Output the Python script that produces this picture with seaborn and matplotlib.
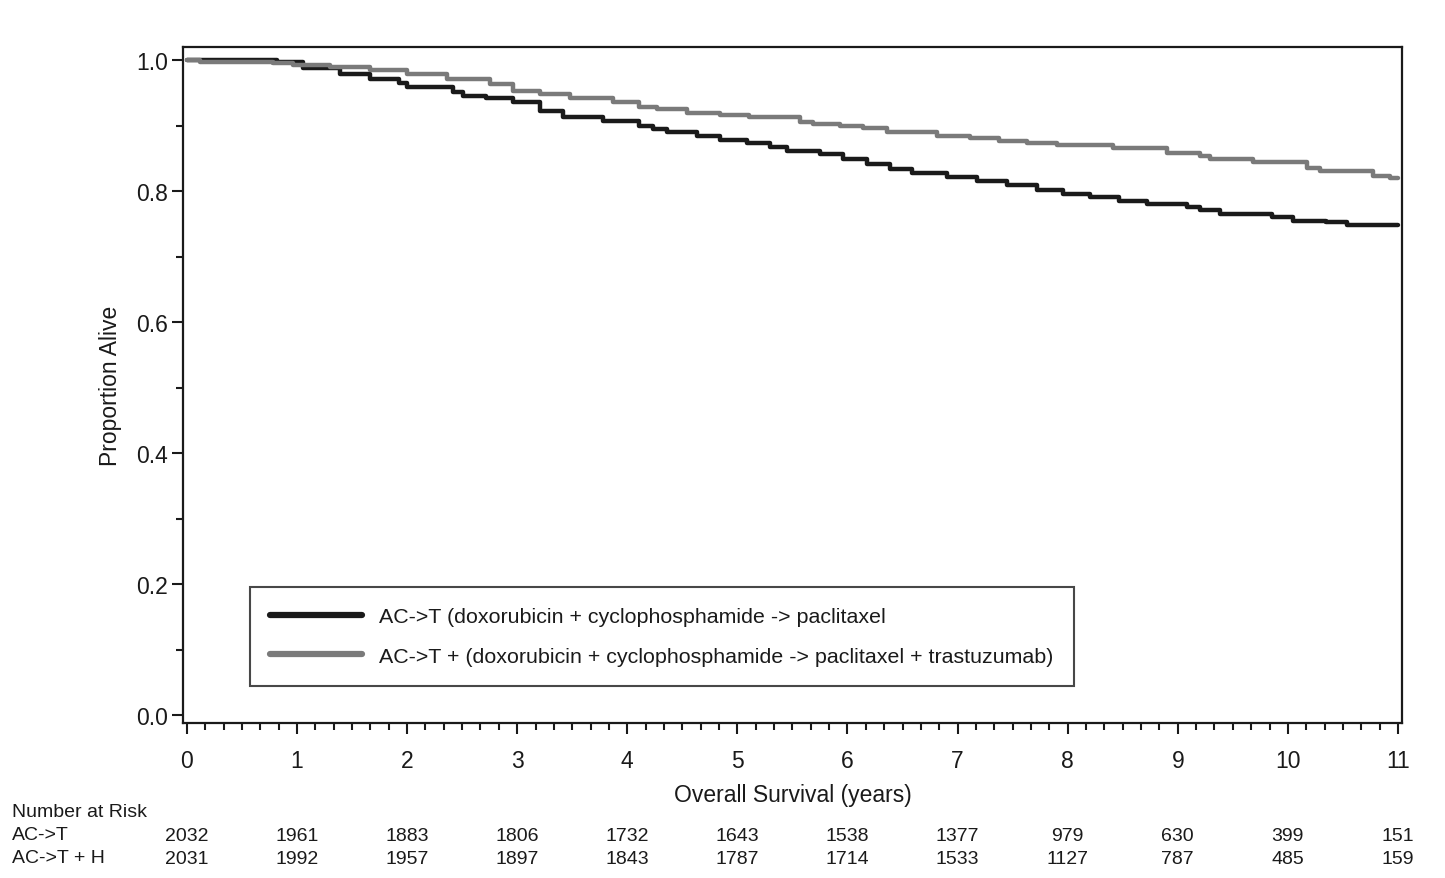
import pandas as pd
import matplotlib
matplotlib.use("Agg")
import matplotlib.pyplot as plt
import seaborn as sns

# Kaplan-Meier steps (years, proportion alive)
act_time = [0, 0.82, 1.05, 1.39, 1.66, 1.93, 2.0, 2.42, 2.51, 2.72, 2.96, 3.21, 3.42,
            3.78, 4.11, 4.23, 4.36, 4.63, 4.84, 5.09, 5.30, 5.45, 5.75, 5.96, 6.18,
            6.39, 6.59, 6.90, 7.18, 7.45, 7.72, 7.96, 8.20, 8.47, 8.72, 9.08, 9.20,
            9.38, 9.86, 10.05, 10.35, 10.54, 11.0]
act_surv = [1.0, 0.997, 0.988, 0.979, 0.972, 0.965, 0.959, 0.952, 0.946, 0.943, 0.936,
            0.922, 0.913, 0.907, 0.899, 0.895, 0.891, 0.884, 0.878, 0.873, 0.867, 0.861,
            0.856, 0.849, 0.841, 0.834, 0.827, 0.821, 0.815, 0.809, 0.802, 0.795, 0.791,
            0.785, 0.780, 0.776, 0.771, 0.765, 0.760, 0.755, 0.753, 0.748, 0.748]

acth_time = [0, 0.12, 0.78, 0.96, 1.30, 1.66, 2.0, 2.36, 2.75, 2.96, 3.21, 3.48, 3.87,
             4.11, 4.27, 4.54, 4.84, 5.11, 5.57, 5.69, 5.93, 6.14, 6.36, 6.81, 7.11,
             7.38, 7.63, 7.90, 8.41, 8.90, 9.20, 9.29, 9.68, 10.17, 10.29, 10.77, 10.93,
             11.0]
acth_surv = [1.0, 0.997, 0.995, 0.993, 0.990, 0.985, 0.979, 0.972, 0.963, 0.953, 0.948,
             0.943, 0.936, 0.928, 0.925, 0.920, 0.917, 0.913, 0.906, 0.902, 0.899, 0.896,
             0.890, 0.885, 0.881, 0.877, 0.873, 0.870, 0.866, 0.859, 0.853, 0.849, 0.844,
             0.836, 0.831, 0.823, 0.820, 0.820]

arm_labels = ["AC->T (doxorubicin + cyclophosphamide -> paclitaxel",
              "AC->T + (doxorubicin + cyclophosphamide -> paclitaxel + trastuzumab)"]
risk_years = list(range(12))
risk_act = [2032, 1961, 1883, 1806, 1732, 1643, 1538, 1377, 979, 630, 399, 151]
risk_acth = [2031, 1992, 1957, 1897, 1843, 1787, 1714, 1533, 1127, 787, 485, 159]
risk_rows = ["AC->T", "AC->T + H"]

df = pd.concat([
    pd.DataFrame({"time": act_time, "surv": act_surv, "arm": arm_labels[0]}),
    pd.DataFrame({"time": acth_time, "surv": acth_surv, "arm": arm_labels[1]}),
])

sns.set_style("ticks")
plt.rcParams["font.family"] = ["Liberation Sans", "DejaVu Sans"]

fig = plt.figure(figsize=(14.45, 8.79), dpi=100)
ax = fig.add_axes([0.1266, 0.1763, 0.8436, 0.769])

sns.lineplot(data=df, x="time", y="surv", hue="arm", estimator=None, sort=False,
             palette=["#1a1a1a", "#7a7a7a"], linewidth=3.2, drawstyle="steps-post", ax=ax)

ax.set_xlim(-0.036, 11.036)
ax.set_ylim(-0.012, 1.02)
ax.set_xticks(range(12))
ax.set_xticks([i / 6 for i in range(67)], minor=True)
ax.set_yticks([0, 0.2, 0.4, 0.6, 0.8, 1.0])
ax.set_yticks([0.1, 0.3, 0.5, 0.7, 0.9], minor=True)
ax.set_yticklabels(["0.0", "0.2", "0.4", "0.6", "0.8", "1.0"])
ax.tick_params(axis="both", which="major", labelsize=16.5, length=8, width=1.5,
               color="#1a1a1a", labelcolor="#1a1a1a")
ax.tick_params(axis="both", which="minor", length=5, width=1.5, color="#1a1a1a")
ax.tick_params(axis="x", pad=11)
ax.tick_params(axis="y", pad=3)
for s in ax.spines.values():
    s.set_linewidth(1.6)
    s.set_color("#1a1a1a")

ax.set_xlabel("Overall Survival (years)", fontsize=16.5, labelpad=7.5, color="#1a1a1a")
ax.set_ylabel("Proportion Alive", fontsize=16.5, labelpad=10, color="#1a1a1a")

handles, labels = ax.get_legend_handles_labels()
leg = ax.legend(handles, labels, loc="lower left", bbox_to_anchor=(0.055, 0.0547),
                fontsize=15.4, frameon=True, fancybox=False, edgecolor="#1a1a1a",
                handlelength=4.3, handletextpad=0.8, labelspacing=0.95, borderpad=0.95,
                borderaxespad=0)
leg.get_frame().set_linewidth(1.5)
for ln in leg.get_lines():
    ln.set_linewidth(4.5)
for t in leg.get_texts():
    t.set_color("#1a1a1a")

# number at risk table
tr = ax.get_xaxis_transform()
fig.text(0.0083, 1 - 813 / 879, "Number at Risk", fontsize=14, va="center", ha="left",
         color="#1a1a1a")
for row_y, name, counts in [(836, risk_rows[0], risk_act), (859, risk_rows[1], risk_acth)]:
    fig.text(0.0083, 1 - row_y / 879, name, fontsize=14, va="center", ha="left",
             color="#1a1a1a")
    ay = (724 - row_y) / 676
    for yr, n in zip(risk_years, counts):
        ax.text(yr, ay, str(n), transform=tr, fontsize=14, ha="center", va="center",
                clip_on=False, color="#1a1a1a")

fig.savefig("out.png", dpi=100)
